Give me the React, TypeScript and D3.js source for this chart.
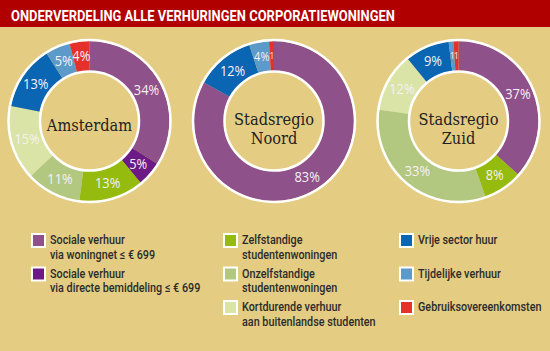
import React, { useRef, useEffect } from 'react';
import * as d3 from 'd3';

const title = 'ONDERVERDELING ALLE VERHURINGEN CORPORATIEWONINGEN';

const categories = [
  ['Sociale verhuur', 'via woningnet ≤ € 699'],
  ['Sociale verhuur', 'via directe bemiddeling ≤ € 699'],
  ['Zelfstandige', 'studentenwoningen'],
  ['Onzelfstandige', 'studentenwoningen'],
  ['Kortdurende verhuur', 'aan buitenlandse studenten'],
  ['Vrije sector huur'],
  ['Tijdelijke verhuur'],
  ['Gebruiksovereenkomsten'],
];

const colors = ['#8f5189', '#6b1a86', '#95bb0e', '#b2c880', '#d9e4a6', '#0a65b3', '#5c9bc9', '#e5312b'];

const regions = [['Amsterdam'], ['Stadsregio', 'Noord'], ['Stadsregio', 'Zuid']];
const amsterdam = [34, 5, 13, 11, 15, 13, 5, 4];
const noord = [83, 0, 0, 0, 0, 12, 4, 1];
const zuid = [37, 0, 8, 33, 12, 9, 1, 1];
const seriesValues = [amsterdam, noord, zuid];

// legend columns: which category indices go in each column
const legendColumns = [[0, 1], [2, 3, 4], [5, 6, 7]];

const width = 550;
const height = 351;

const App: React.FC = () => {
  const svgRef = useRef<SVGSVGElement | null>(null);

  useEffect(() => {
    const svg = d3.select(svgRef.current);
    svg.selectAll('*').remove();

    svg.append('rect').attr('width', width).attr('height', height).attr('fill', '#e4cc82');

    // Title bar
    svg.append('rect').attr('width', width).attr('height', 27).attr('fill', '#b10000');
    svg.append('text')
      .attr('x', 11)
      .attr('y', 21)
      .attr('fill', '#fff')
      .attr('font-family', '"Roboto", sans-serif')
      .attr('font-weight', 'bold')
      .attr('font-size', 15)
      .attr('textLength', 384)
      .attr('lengthAdjust', 'spacingAndGlyphs')
      .text(title);

    const outerR = 80;
    const innerR = 50;
    const centers = d3.scalePoint<number>().domain([0, 1, 2]).range([89.5, 458.5]);
    const cy = 121;

    const pie = d3.pie<number>().sort(null).value(d => d);
    const arc = d3.arc<d3.PieArcDatum<number>>().innerRadius(innerR).outerRadius(outerR);
    const labelArc = d3.arc<d3.PieArcDatum<number>>().innerRadius(65).outerRadius(65);

    seriesValues.forEach((values, i) => {
      const g = svg.append('g').attr('transform', `translate(${centers(i)},${cy})`);
      const arcs = pie(values).filter(d => d.data > 0);

      g.selectAll('path.slice')
        .data(arcs)
        .enter()
        .append('path')
        .attr('class', 'slice')
        .attr('d', arc)
        .attr('fill', d => colors[d.index]);

      g.append('circle').attr('r', outerR + 1).attr('fill', 'none').attr('stroke', '#fff').attr('stroke-width', 2.5);
      g.append('circle').attr('r', innerR - 0.5).attr('fill', 'none').attr('stroke', '#fff').attr('stroke-width', 2.5);

      g.selectAll('text.pct')
        .data(arcs)
        .enter()
        .append('text')
        .attr('class', 'pct')
        .attr('transform', d => `translate(${labelArc.centroid(d)}) scale(0.92,1)`)
        .attr('text-anchor', 'middle')
        .attr('dy', '0.35em')
        .attr('fill', '#f6f0f4')
        .attr('font-family', '"Open Sans", sans-serif')
        .attr('font-size', d => (d.data <= 1 ? 9 : d.data <= 4 && i > 0 ? 12 : 14))
        .text(d => (d.data <= 1 ? String(d.data) : `${d.data}%`));

      const lines = regions[i];
      const baseY = lines.length === 1 ? 9.5 : 3.5;
      lines.forEach((line, j) => {
        g.append('text')
          .attr('transform', `translate(0,${baseY + j * 19}) scale(0.86,1)`)
          .attr('text-anchor', 'middle')
          .attr('fill', '#222')
          .attr('font-family', '"DejaVu Serif", serif')
          .attr('font-size', 17)
          .text(line);
      });
    });

    // Legend
    const colX = [31, 223, 399];
    const rowY = d3.scaleLinear().domain([0, 1]).range([233, 266.5]);
    legendColumns.forEach((col, ci) => {
      col.forEach((catIdx, ri) => {
        const x = colX[ci];
        const y = rowY(ri);
        svg.append('rect')
          .attr('x', x + 1)
          .attr('y', y + 1)
          .attr('width', 13)
          .attr('height', 13)
          .attr('fill', colors[catIdx])
          .attr('stroke', '#fff')
          .attr('stroke-width', 2);
        categories[catIdx].forEach((line, li) => {
          svg.append('text')
            .attr('transform', `translate(${x + 19},${y + 11 + li * 14.5}) scale(0.8,1)`)
            .attr('fill', '#2b2b2b')
            .attr('font-family', '"Roboto", sans-serif')
            .attr('font-weight', 500)
            .attr('font-size', 13.5)
            .text(line);
        });
      });
    });
  }, []);

  return (
    <svg ref={svgRef} width={width} height={height} style={{ position: 'absolute', left: 0, top: 0 }} />
  );
};

export default App;
